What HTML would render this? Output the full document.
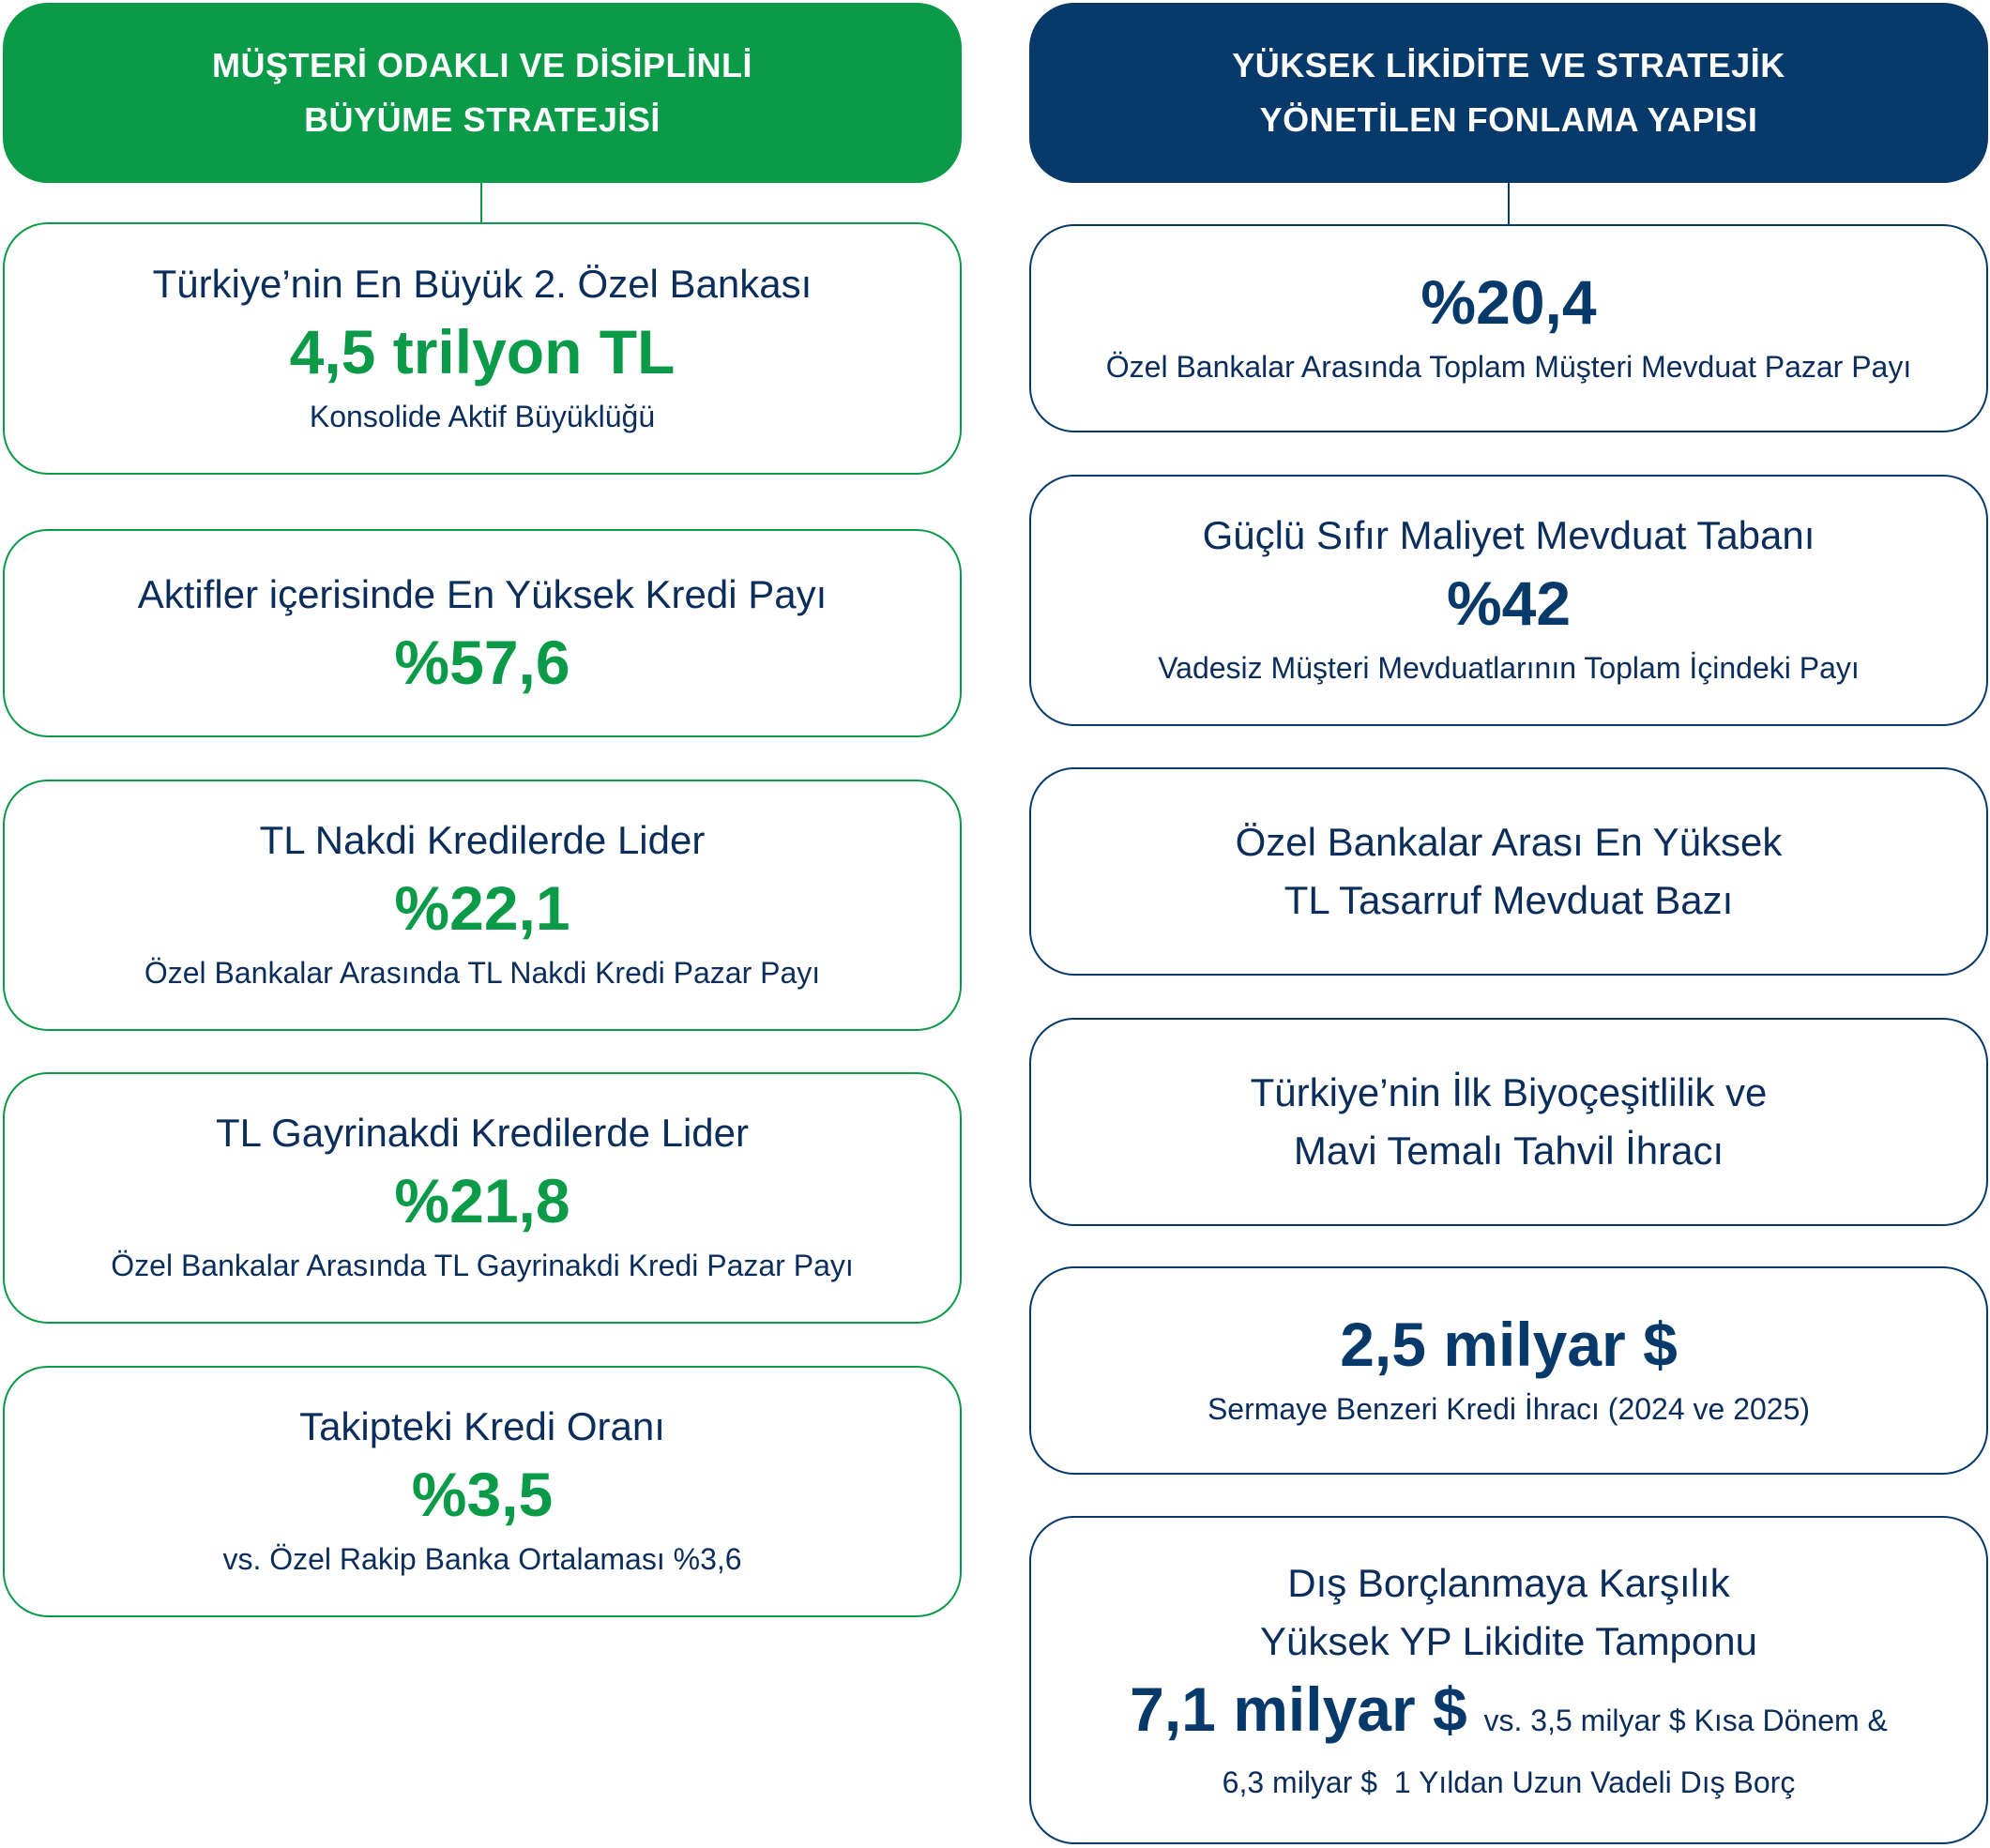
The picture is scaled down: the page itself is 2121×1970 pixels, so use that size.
<!DOCTYPE html>
<html><head><meta charset="utf-8"><style>
*{margin:0;padding:0;box-sizing:border-box}
body{width:2121px;height:1970px;background:#fff;position:relative;font-family:"Liberation Sans",sans-serif;color:#0b2d5b;overflow:hidden}
.h{position:absolute;top:3px;height:192px;width:1022px;border-radius:48px;color:#fff;font-weight:bold;font-size:36px;line-height:58px;text-align:center;display:flex;align-items:center;justify-content:center;letter-spacing:0.5px}
.b{position:absolute;width:1022px;border-radius:48px;background:#fff;display:flex;flex-direction:column;align-items:center;justify-content:center;text-align:center}
.L{left:3px;border:2px solid #0a9a48}
.R{left:1097px;border:2px solid #073a6a}
.t{font-size:42px;line-height:62px}
.n{font-size:66px;font-weight:bold;line-height:82px}
.g{color:#0a9a48}.v{color:#073a6a}
.s{font-size:32px;line-height:56px}
.ln{position:absolute;width:2px;height:42px;top:195px}
</style></head><body>
<div class="h" style="left:3px;background:#0a9a48">MÜŞTERİ ODAKLI VE DİSİPLİNLİ<br>BÜYÜME STRATEJİSİ</div>
<div class="h" style="left:1097px;background:#073a6a">YÜKSEK LİKİDİTE VE STRATEJİK<br>YÖNETİLEN FONLAMA YAPISI</div>
<div class="ln" style="left:512px;background:#0a9a48"></div>
<div class="ln" style="left:1607px;background:#073a6a;top:195px;height:44px"></div>

<div class="b L" style="top:237px;height:269px"><div class="t">Türkiye’nin En Büyük 2. Özel Bankası</div><div class="n g">4,5 trilyon TL</div><div class="s">Konsolide Aktif Büyüklüğü</div></div>
<div class="b L" style="top:564px;height:222px"><div class="t">Aktifler içerisinde En Yüksek Kredi Payı</div><div class="n g">%57,6</div></div>
<div class="b L" style="top:831px;height:268px"><div class="t">TL Nakdi Kredilerde Lider</div><div class="n g">%22,1</div><div class="s">Özel Bankalar Arasında TL Nakdi Kredi Pazar Payı</div></div>
<div class="b L" style="top:1143px;height:268px"><div class="t">TL Gayrinakdi Kredilerde Lider</div><div class="n g">%21,8</div><div class="s">Özel Bankalar Arasında TL Gayrinakdi Kredi Pazar Payı</div></div>
<div class="b L" style="top:1456px;height:268px"><div class="t">Takipteki Kredi Oranı</div><div class="n g">%3,5</div><div class="s">vs. Özel Rakip Banka Ortalaması %3,6</div></div>

<div class="b R" style="top:239px;height:222px"><div class="n v">%20,4</div><div class="s">Özel Bankalar Arasında Toplam Müşteri Mevduat Pazar Payı</div></div>
<div class="b R" style="top:506px;height:268px"><div class="t">Güçlü Sıfır Maliyet Mevduat Tabanı</div><div class="n v">%42</div><div class="s">Vadesiz Müşteri Mevduatlarının Toplam İçindeki Payı</div></div>
<div class="b R" style="top:818px;height:222px"><div class="t">Özel Bankalar Arası En Yüksek<br>TL Tasarruf Mevduat Bazı</div></div>
<div class="b R" style="top:1085px;height:222px"><div class="t">Türkiye’nin İlk Biyoçeşitlilik ve<br>Mavi Temalı Tahvil İhracı</div></div>
<div class="b R" style="top:1350px;height:222px"><div class="n v">2,5 milyar $</div><div class="s">Sermaye Benzeri Kredi İhracı (2024 ve 2025)</div></div>
<div class="b R" style="top:1616px;height:350px"><div class="t">Dış Borçlanmaya Karşılık<br>Yüksek YP Likidite Tamponu</div><div style="line-height:90px"><span class="n v">7,1 milyar $</span><span class="s">&nbsp;&nbsp;vs. 3,5 milyar $ Kısa Dönem &amp;</span></div><div class="s" style="line-height:52px;margin-top:-12px">6,3 milyar $&nbsp; 1 Yıldan Uzun Vadeli Dış Borç</div></div>
</body></html>
